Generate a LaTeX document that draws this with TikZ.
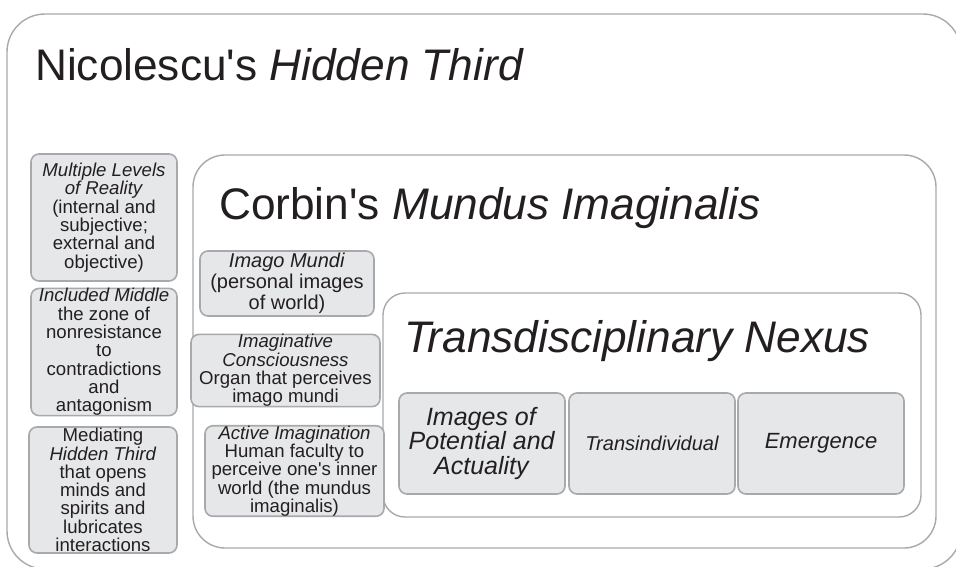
\documentclass[tikz,border=0pt]{standalone}
\usepackage{fontspec}
\setmainfont{Liberation Sans}
\definecolor{edgegray}{HTML}{A7A9AC}
\definecolor{boxfill}{HTML}{E6E7E8}
\definecolor{txt}{HTML}{231F20}
\newcommand{\ap}{\textquotesingle}
\tikzset{
  outerframe/.style={draw=edgegray, line width=1.4pt, fill=white, inner sep=0pt},
  graybox/.style={draw=edgegray, line width=1.6pt, fill=boxfill, rounded corners=8pt,
    inner sep=0pt, align=center, text=txt},
  smalltext/.style={font=\fontsize{18.6}{18.3}\selectfont},
  titletext/.style={anchor=base west, inner sep=0pt, text=txt, font=\fontsize{44.2}{50}\selectfont}
}
\begin{document}
\begin{tikzpicture}[x=1pt,y=-1pt]
\useasboundingbox (0,0) rectangle (956,566);
% frames
\node[outerframe, rounded corners=38pt, minimum width=954pt, minimum height=555pt] (outer) at (484,291.5) {};
\node[titletext] (t1) at (35,80) {Nicolescu\ap s \textit{Hidden Third}};
\node[outerframe, rounded corners=32pt, minimum width=743pt, minimum height=393pt] (corbin) at (564.5,351.5) {};
\node[titletext] (t2) at (219,219) {Corbin\ap s \textit{Mundus Imaginalis}};
\node[outerframe, rounded corners=22pt, minimum width=538pt, minimum height=224pt] (trans) at (652,405) {};
\node[titletext] (t3) at (404,352) {\textit{Transdisciplinary Nexus}};
% left column
\node[graybox, smalltext, minimum width=146pt, minimum height=127pt] (a) at (104,217.5)
  {\textit{Multiple Levels}\\\textit{of Reality}\\(internal and\\subjective;\\external and\\objective)};
\node[graybox, smalltext, minimum width=146pt, minimum height=126pt] (b) at (104,352)
  {\textit{Included Middle}\\the zone of\\nonresistance\\to\\contradictions\\and\\antagonism};
\node[graybox, smalltext, minimum width=148pt, minimum height=126pt] (c) at (103,490)
  {Mediating\\\textit{Hidden Third}\\that opens\\minds and\\spirits and\\lubricates\\interactions};
% middle column
\node[graybox, font=\fontsize{20}{21}\selectfont, minimum width=174pt, minimum height=65pt] (imago) at (287,283.5)
  {\textit{Imago Mundi}\\(personal images\\of world)};
\node[graybox, smalltext, minimum width=189pt, minimum height=69pt] (imagin) at (285.5,370.5)
  {\textit{Imaginative}\\\textit{Consciousness}\\Organ that perceives\\imago mundi};
\node[graybox, smalltext, minimum width=179pt, minimum height=90pt] (active) at (294.5,471)
  {\textit{Active Imagination}\\Human faculty to\\perceive one\ap s inner\\world (the mundus\\imaginalis)};
% bottom row
\node[graybox, font=\fontsize{25}{24.5}\selectfont, minimum width=166pt, minimum height=101pt] (p1) at (482,443.5)
  {\textit{Images of}\\\textit{Potential and}\\\textit{Actuality}};
\node[graybox, font=\fontsize{20}{22}\selectfont\itshape, minimum width=166pt, minimum height=101pt] (p2) at (652,443.5)
  {Transindividual};
\node[graybox, font=\fontsize{22}{24}\selectfont\itshape, minimum width=166pt, minimum height=101pt] (p3) at (821,443.5)
  {Emergence};
\end{tikzpicture}
\end{document}
